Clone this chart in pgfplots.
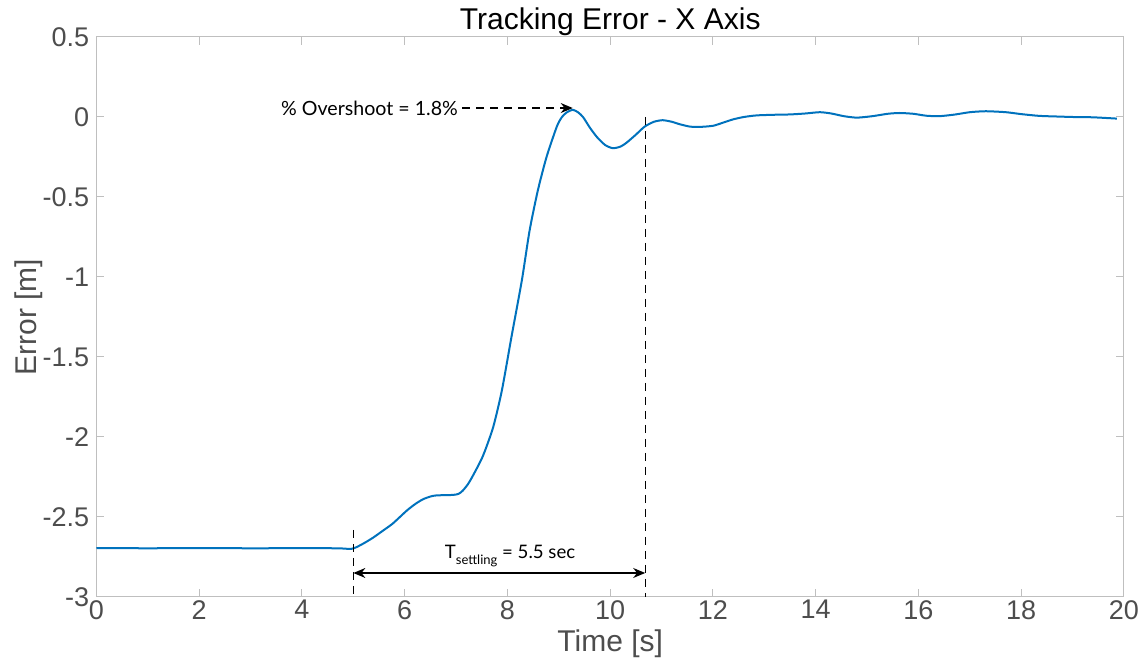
\documentclass[border=0pt]{standalone}
\usepackage{fontspec}
\setmainfont{Liberation Sans}
\newfontfamily\annfont{Lato}
\usepackage{pgfplots}
\pgfplotsset{compat=1.18}
\usetikzlibrary{arrows.meta}
\definecolor{mblue}{HTML}{0072BD}
\definecolor{ticktext}{HTML}{4D4D4D}
\definecolor{axgray}{HTML}{BFBFBF}
\begin{document}
\begin{tikzpicture}[x=1pt,y=1pt]
\path[use as bounding box] (0,0) rectangle (574,331);
\begin{axis}[
  at={(48.25pt,32.5pt)}, anchor=south west,
  scale only axis, width=513.75pt, height=280pt,
  xmin=0, xmax=20, ymin=-3, ymax=0.5,
  xtick={0,2,...,20}, ytick={-3,-2.5,...,0.5},
  /pgf/number format/assume math mode=true,
  axis line style={axgray, line width=0.5pt},
  tick style={axgray, line width=0.5pt},
  major tick length=4pt,
  tick align=inside,
  xtick pos=both, ytick pos=both,
  ticklabel style={font=\fontsize{13.5}{15}\selectfont, text=ticktext},
  yticklabel style={anchor=east, inner sep=0pt, xshift=-3.5pt},
  xticklabel style={anchor=north, inner sep=0pt, yshift=-1.5pt},
  xlabel={Time [s]}, ylabel={Error [m]},
  xlabel style={font=\fontsize{15}{17}\selectfont, text=ticktext, at={(axis description cs:0.5,0)}, anchor=base, inner sep=0pt, yshift=-27.5pt},
  ylabel style={font=\fontsize{15}{17}\selectfont, text=ticktext, at={(axis description cs:0,0.5)}, anchor=base, inner sep=0pt, yshift=30pt},
  title={Tracking Error - X Axis},
  title style={font=\fontsize{15}{17}\selectfont, at={(axis description cs:0.5,1)}, anchor=base, inner sep=0pt, yshift=-2.5pt},
  clip=false,
]
\addplot[mblue, line width=1pt, smooth, tension=0.4] table {
0 -2.695
0.5 -2.694
1 -2.696
1.5 -2.694
2 -2.695
2.5 -2.694
3 -2.696
3.5 -2.695
4 -2.694
4.5 -2.695
4.8 -2.697
4.95 -2.700
5.05 -2.69
5.2 -2.665
5.38 -2.63
5.6 -2.58
5.77 -2.54
6.04 -2.46
6.2 -2.42
6.35 -2.39
6.5 -2.372
6.62 -2.365
6.94 -2.362
7.05 -2.355
7.13 -2.335
7.23 -2.295
7.33 -2.24
7.52 -2.12
7.72 -1.94
7.89 -1.71
8.08 -1.37
8.28 -1.02
8.43 -0.71
8.59 -0.46
8.76 -0.25
8.96 -0.06
9.06 0.0
9.15 0.028
9.27 0.045
9.37 0.03
9.47 0.0
9.6 -0.065
9.74 -0.125
9.9 -0.175
10.05 -0.195
10.2 -0.185
10.32 -0.16
10.5 -0.11
10.67 -0.06
10.85 -0.03
11.02 -0.02
11.2 -0.03
11.35 -0.045
11.55 -0.06
11.74 -0.062
12.0 -0.055
12.2 -0.035
12.39 -0.015
12.6 0.0
12.85 0.01
13.2 0.014
13.5 0.016
13.8 0.022
14.08 0.03
14.3 0.022
14.55 0.005
14.8 -0.004
15.1 0.005
15.4 0.02
15.63 0.025
15.9 0.02
16.15 0.008
16.4 0.005
16.7 0.015
17.0 0.03
17.31 0.036
17.7 0.03
18.0 0.018
18.35 0.007
18.7 0.003
19.0 0.0
19.4 -0.002
19.86 -0.01
};
% annotations
\draw[line width=0.6pt, dash pattern=on 4pt off 3pt] (axis cs:5,-2.58) -- (axis cs:5,-3);
\draw[line width=0.6pt, dash pattern=on 4pt off 3pt] (axis cs:10.68,0) -- (axis cs:10.68,-3);
\draw[{Stealth[length=6pt,width=5pt]}-{Stealth[length=6pt,width=5pt]}, line width=0.6pt] (axis cs:5,-2.85) -- (axis cs:10.68,-2.85);
\node[font=\annfont\fontsize{9.3}{11}\selectfont] at (axis cs:8.05,-2.745) {T\raisebox{-0.7ex}{\fontsize{6.5}{7}\selectfont settling} = 5.5 sec};
\draw[-{Stealth[length=6pt,width=5pt]}, line width=0.6pt, dash pattern=on 4pt off 3pt] (axis cs:7.12,0.056) -- (axis cs:9.27,0.056);
\node[font=\annfont\fontsize{9.8}{11}\selectfont, anchor=east, inner sep=1pt] at (axis cs:7.08,0.056) {\% Overshoot = 1.8\%};
\end{axis}
\end{tikzpicture}
\end{document}
